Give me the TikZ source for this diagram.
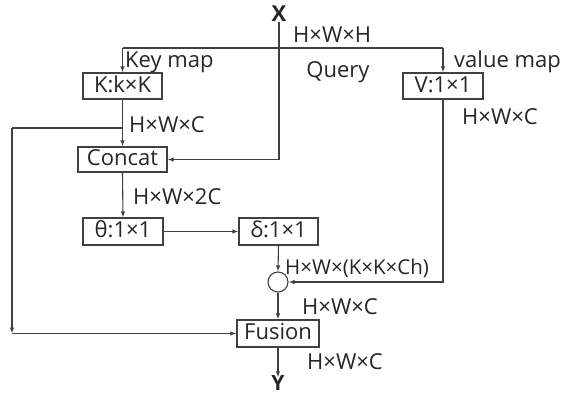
\documentclass[tikz,border=0pt]{standalone}
\usepackage{fontspec}
\setmainfont{Open Sans}
\usetikzlibrary{arrows.meta}
\begin{document}
\begin{tikzpicture}[x=1pt,y=-1pt,
  every node/.style={font=\fontsize{22}{26}\selectfont, text=black!85, inner sep=0pt},
  blk/.style={draw=black!75, line width=1.1pt, minimum height=26pt, text height=16pt, text depth=4pt},
  lbl/.style={anchor=west},
  ln/.style={draw=black!75, line width=1.1pt},
  arr/.style={ln, -{Latex[length=6pt,width=4.5pt]}}]
\useasboundingbox (0,0) rectangle (562,397);
% nodes
\node[font=\fontsize{22}{26}\selectfont\bfseries] (X) at (279,14) {X};
\node[blk, minimum width=79pt] (K) at (122.5,86) {K:k×K};
\node[blk, minimum width=80pt] (V) at (443,86) {V:1×1};
\node[blk, minimum width=89pt, minimum height=25pt] (C) at (122.5,159.5) {Concat};
\node[blk, minimum width=80pt, minimum height=27pt] (T) at (123,231.5) {θ:1×1};
\node[blk, minimum width=79pt, minimum height=27pt] (D) at (278.5,231.5) {δ:1×1};
\node[draw=black!75, line width=1.1pt, circle, minimum size=20pt] (O) at (278,282) {};
\node[blk, minimum width=82pt, minimum height=27pt] (F) at (278,333.5) {Fusion};
\node[font=\fontsize{21}{24}\selectfont\bfseries, text height=15pt, text depth=0pt] (Y) at (278,383) {Y};
% labels
\node[lbl] (l1) at (293,35) {H×W×H};
\node[lbl] (l2) at (125,62) {Key map};
\node (l3) at (338,72) {Query};
\node[lbl] (l4) at (454,62) {value map};
\node[lbl] (l5) at (462,117) {H×W×C};
\node[lbl] (l6) at (129,125) {H×W×C};
\node[lbl] (l7) at (133,197) {H×W×2C};
\node[lbl, font=\fontsize{20.5}{24}\selectfont] (l8) at (285,268) {H×W×(K×K×Ch)};
\node[lbl] (l9) at (302,307) {H×W×C};
\node[lbl] (l10) at (307,362) {H×W×C};
% coordinates
\coordinate (kt) at (122.5,48);
\coordinate (vt) at (443,48);
\coordinate (lt) at (12,128);
\coordinate (kc) at (122.5,128);
\coordinate (lb) at (12,333.5);
% connectors
\draw[ln] (kt) -- (vt);
\draw[arr] (kt) -- (K.north);
\draw[arr] (vt) -- (V.north);
\draw[arr] (X.south) |- (C.east);
\draw[arr] (K.south) -- (C.north);
\draw[ln] (lt) -- (kc);
\draw[arr] (lt) -- (lb);
\draw[arr] (lb) -- (F.west);
\draw[arr] (C.south) -- (T.north);
\draw[arr] (T.east) -- (D.west);
\draw[arr] (D.south) -- (O.north);
\draw[arr] (V.south) |- (O.east);
\draw[arr] (O.south) -- (F.north);
\draw[arr] (F.south) -- ([yshift=-2pt]Y.north);
\end{tikzpicture}
\end{document}
